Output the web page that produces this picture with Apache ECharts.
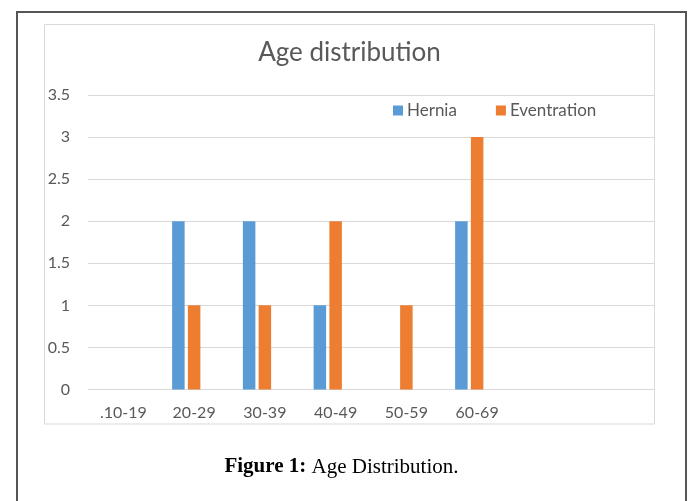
<!DOCTYPE html>
<html>
<head>
<meta charset="utf-8">
<script src="https://cdn.jsdelivr.net/npm/echarts@6/dist/echarts.min.js"></script>
<style>
html,body{margin:0;padding:0;background:#fff;}
#chart{width:689px;height:501px;}
</style>
</head>
<body>
<div id="chart"></div>
<script>
const categories = ['.10-19', '20-29', '30-39', '40-49', '50-59', '60-69', '', ''];
const hernia = [0, 2, 2, 1, 0, 2, null, null];
const eventration = [0, 1, 1, 2, 1, 3, null, null];
const spacer = [null, null, null, null, null, null, null, null];
const yTicks = [0, 0.5, 1, 1.5, 2, 2.5, 3, 3.5];
const chartTitle = 'Age distribution';
const captionBold = 'Figure 1:';
const captionText = ' Age Distribution.';

const font = 'Lato, "Open Sans", sans-serif';
const txt = '#595959';

const chart = echarts.init(document.getElementById('chart'), null, {renderer: 'canvas'});
chart.setOption({
  animation: false,
  backgroundColor: '#fff',
  title: {
    text: chartTitle,
    left: 349.5,
    top: 40,
    textAlign: 'center',
    padding: 0,
    textStyle: {fontFamily: font, fontSize: 26, fontWeight: 'normal', color: txt}
  },
  legend: {
    data: ['Hernia', 'Eventration'],
    left: 393,
    top: 102,
    padding: 0,
    itemWidth: 10,
    itemHeight: 10,
    itemGap: 39,
    icon: 'rect',
    textStyle: {fontFamily: font, fontSize: 17, color: txt, padding: [0, 0, 0, -1]}
  },
  grid: {left: 88, right: 35, top: 95, bottom: 111.5, containLabel: false},
  xAxis: {
    type: 'category',
    data: categories,
    axisLine: {show: true, lineStyle: {color: '#d9d9d9', width: 1}},
    axisTick: {show: false},
    axisLabel: {fontFamily: font, fontSize: 16, color: txt, margin: 15, interval: 0}
  },
  yAxis: {
    type: 'value',
    min: yTicks[0],
    max: yTicks[yTicks.length - 1],
    interval: 0.5,
    axisLine: {show: false},
    axisTick: {show: false},
    splitLine: {lineStyle: {color: '#d9d9d9', width: 1}},
    axisLabel: {fontFamily: font, fontSize: 16, color: txt, margin: 18}
  },
  series: [
    {name: 'Hernia', type: 'bar', data: hernia, barWidth: 12.5, barGap: '26%', itemStyle: {color: '#5B9BD5'}},
    {name: 'Eventration', type: 'bar', data: eventration, barWidth: 12.5, barGap: '26%', itemStyle: {color: '#ED7D31'}},
    {name: 'blank', type: 'bar', data: spacer, barWidth: 12.5, barGap: '26%', itemStyle: {color: '#A5A5A5'}}
  ],
  graphic: [
    {type: 'rect', z: -10, silent: true, shape: {x: 44.5, y: 24.5, width: 610, height: 399.5},
     style: {fill: 'none', stroke: '#d9d9d9', lineWidth: 1}},
    {type: 'polyline', z: 10, silent: true, shape: {points: [[17, 501], [17, 12], [686, 12], [686, 501]]},
     style: {fill: 'none', stroke: '#555555', lineWidth: 2}},
    {type: 'text', z: 10, silent: true, x: 341.5, y: 467,
     style: {
       text: '{b|' + captionBold + '}{r|' + captionText + '}',
       align: 'center', verticalAlign: 'middle',
       rich: {
         b: {fontFamily: '"Liberation Serif", serif', fontSize: 21, fontWeight: 'bold', fill: '#000'},
         r: {fontFamily: '"Liberation Serif", serif', fontSize: 21, fill: '#000'}
       }
     }}
  ]
});
</script>
</body>
</html>
